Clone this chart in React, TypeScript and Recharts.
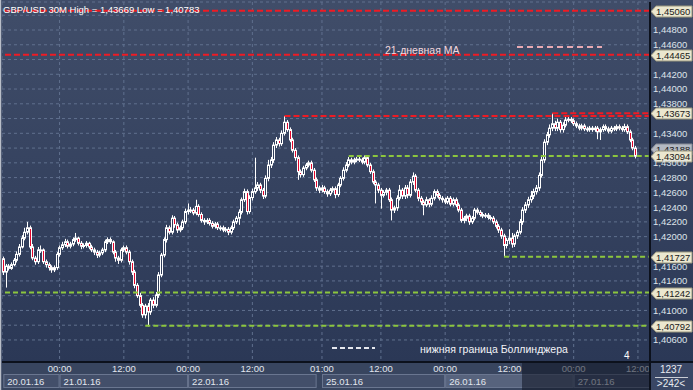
import React from 'react';
import { ComposedChart, Bar, XAxis, YAxis, CartesianGrid, ReferenceLine } from 'recharts';

const FONT = '"Liberation Sans", Arial, sans-serif';
const SLOT_COUNT = 242;

// GBP/USD 30-minute candles, 20.01.16 13:30 .. 27.01.16 11:30
const firstOpen = 1.4170;
const closes = [
  1.4152, 1.4160, 1.4157, 1.4162, 1.4168, 1.4176, 1.4186, 1.4198, 1.4206, 1.4212,
  1.4186, 1.4171, 1.4166, 1.4182, 1.4182, 1.4166, 1.4162, 1.4158, 1.4155, 1.4158,
  1.4176, 1.4185, 1.4189, 1.4193, 1.4187, 1.4190, 1.4196, 1.4198, 1.4191, 1.4187,
  1.4188, 1.4191, 1.4186, 1.4182, 1.4179, 1.4175, 1.4178, 1.4182, 1.4193, 1.4196,
  1.4193, 1.4179, 1.4171, 1.4168, 1.4182, 1.4185, 1.4179, 1.4166, 1.4152, 1.4134,
  1.4120, 1.4107, 1.4094, 1.4106, 1.4098, 1.4114, 1.4107, 1.4121, 1.4148, 1.4175,
  1.4196, 1.4212, 1.4206, 1.4225, 1.4216, 1.4209, 1.4212, 1.4220, 1.4234, 1.4236,
  1.4236, 1.4232, 1.4241, 1.4230, 1.4222, 1.4220, 1.4222, 1.4218, 1.4214, 1.4217,
  1.4212, 1.4212, 1.4209, 1.4210, 1.4206, 1.4212, 1.4220, 1.4225, 1.4233, 1.4250,
  1.4261, 1.4234, 1.4253, 1.4261, 1.4266, 1.4270, 1.4263, 1.4255, 1.4279, 1.4297,
  1.4304, 1.4324, 1.4331, 1.4326, 1.4340, 1.4355, 1.4345, 1.4331, 1.4317, 1.4307,
  1.4288, 1.4284, 1.4293, 1.4297, 1.4300, 1.4290, 1.4277, 1.4266, 1.4263, 1.4266,
  1.4261, 1.4258, 1.4263, 1.4265, 1.4257, 1.4270, 1.4279, 1.4290, 1.4297, 1.4304,
  1.4301, 1.4304, 1.4305, 1.4304, 1.4301, 1.4307, 1.4297, 1.4288, 1.4274, 1.4270,
  1.4263, 1.4256, 1.4260, 1.4263, 1.4250, 1.4236, 1.4239, 1.4252, 1.4263, 1.4255,
  1.4266, 1.4256, 1.4274, 1.4282, 1.4263, 1.4252, 1.4247, 1.4243, 1.4250, 1.4244,
  1.4252, 1.4261, 1.4256, 1.4252, 1.4250, 1.4247, 1.4252, 1.4244, 1.4250, 1.4243,
  1.4236, 1.4222, 1.4225, 1.4228, 1.4220, 1.4225, 1.4236, 1.4233, 1.4230, 1.4228,
  1.4229, 1.4226, 1.4225, 1.4220, 1.4214, 1.4209, 1.4201, 1.4188, 1.4195, 1.4198,
  1.4190, 1.4201, 1.4206, 1.4220, 1.4236, 1.4243, 1.4250, 1.4255, 1.4261, 1.4266,
  1.4283, 1.4304, 1.4328, 1.4338, 1.4347, 1.4353, 1.4347, 1.4355, 1.4345, 1.4351,
  1.4358, 1.4359, 1.4357, 1.4353, 1.4350, 1.4347, 1.4350, 1.4346, 1.4345, 1.4347,
  1.4345, 1.4347, 1.4342, 1.4345, 1.4349, 1.4346, 1.4343, 1.4347, 1.4346, 1.4349,
  1.4347, 1.4345, 1.4349, 1.4342, 1.4331, 1.4320, 1.4309,
];
const highs = [
  1.4173, 1.4163, 1.4163, 1.4165, 1.4171, 1.4180, 1.4190, 1.4202, 1.4212, 1.4220,
  1.4215, 1.4190, 1.4174, 1.4186, 1.4188, 1.4184, 1.4169, 1.4165, 1.4161, 1.4161,
  1.4179, 1.4188, 1.4193, 1.4197, 1.4196, 1.4193, 1.4199, 1.4205, 1.4200, 1.4194,
  1.4191, 1.4194, 1.4193, 1.4189, 1.4185, 1.4182, 1.4181, 1.4185, 1.4196, 1.4199,
  1.4199, 1.4195, 1.4182, 1.4174, 1.4185, 1.4188, 1.4188, 1.4182, 1.4169, 1.4155,
  1.4137, 1.4124, 1.4110, 1.4109, 1.4110, 1.4117, 1.4118, 1.4125, 1.4152, 1.4178,
  1.4199, 1.4216, 1.4215, 1.4229, 1.4228, 1.4219, 1.4215, 1.4223, 1.4238, 1.4245,
  1.4240, 1.4239, 1.4250, 1.4244, 1.4233, 1.4225, 1.4225, 1.4225, 1.4221, 1.4220,
  1.4220, 1.4215, 1.4215, 1.4213, 1.4213, 1.4215, 1.4223, 1.4228, 1.4237, 1.4253,
  1.4265, 1.4264, 1.4256, 1.4265, 1.4307, 1.4274, 1.4273, 1.4266, 1.4283, 1.4304,
  1.4308, 1.4328, 1.4335, 1.4334, 1.4344, 1.43635, 1.4358, 1.4348, 1.4334, 1.4320,
  1.4310, 1.4291, 1.4296, 1.4300, 1.4303, 1.4303, 1.4293, 1.4280, 1.4269, 1.4270,
  1.4269, 1.4264, 1.4266, 1.4268, 1.4268, 1.4273, 1.4282, 1.4294, 1.4301, 1.4308,
  1.4307, 1.4307, 1.4308, 1.4308, 1.4307, 1.4310, 1.4310, 1.4300, 1.4291, 1.4277,
  1.4273, 1.4266, 1.4263, 1.4266, 1.4266, 1.4253, 1.4242, 1.4256, 1.4270, 1.4266,
  1.4270, 1.4270, 1.4278, 1.4287, 1.4285, 1.4266, 1.4255, 1.4250, 1.4254, 1.4252,
  1.4256, 1.4264, 1.4264, 1.4259, 1.4255, 1.4253, 1.4255, 1.4255, 1.4253, 1.4253,
  1.4246, 1.4239, 1.4228, 1.4231, 1.4231, 1.4228, 1.4239, 1.4239, 1.4236, 1.4233,
  1.4232, 1.4232, 1.4229, 1.4228, 1.4223, 1.4217, 1.4212, 1.4204, 1.4198, 1.4210,
  1.4205, 1.4204, 1.4209, 1.4224, 1.4240, 1.4247, 1.4254, 1.4262, 1.4265, 1.4270,
  1.4287, 1.4308, 1.4332, 1.4342, 1.4352, 1.43673, 1.4357, 1.4360, 1.4358, 1.4355,
  1.4362, 1.4362, 1.4362, 1.4360, 1.4356, 1.4353, 1.4353, 1.4353, 1.4349, 1.4350,
  1.4350, 1.4350, 1.4350, 1.4348, 1.4352, 1.4352, 1.4349, 1.4350, 1.4350, 1.4352,
  1.4352, 1.4350, 1.4353, 1.4352, 1.4345, 1.4334, 1.4323,
];
const lows = [
  1.4148, 1.4131, 1.4154, 1.4155, 1.4160, 1.4165, 1.4173, 1.4184, 1.4195, 1.4203,
  1.4183, 1.4168, 1.4162, 1.4163, 1.4178, 1.4163, 1.4158, 1.4154, 1.4151, 1.4152,
  1.4155, 1.4173, 1.4182, 1.4186, 1.4184, 1.4184, 1.4187, 1.4193, 1.4188, 1.4183,
  1.4184, 1.4185, 1.4183, 1.4179, 1.4175, 1.4171, 1.4172, 1.4175, 1.4179, 1.4190,
  1.4190, 1.4176, 1.4166, 1.4163, 1.4165, 1.4179, 1.4176, 1.4162, 1.4148, 1.4130,
  1.4117, 1.4104, 1.4090, 1.4089, 1.40783, 1.4094, 1.4103, 1.4104, 1.4117, 1.4145,
  1.4172, 1.4192, 1.4203, 1.4203, 1.4212, 1.4205, 1.4206, 1.4209, 1.4217, 1.4230,
  1.4232, 1.4229, 1.4229, 1.4227, 1.4219, 1.4216, 1.4217, 1.4215, 1.4211, 1.4211,
  1.4209, 1.4208, 1.4206, 1.4206, 1.4202, 1.4203, 1.4209, 1.4217, 1.4216, 1.4230,
  1.4247, 1.4230, 1.4231, 1.4249, 1.4258, 1.4262, 1.4259, 1.4251, 1.4252, 1.4275,
  1.4293, 1.4300, 1.4320, 1.4322, 1.4323, 1.4337, 1.4342, 1.4328, 1.4314, 1.4303,
  1.4277, 1.4280, 1.4281, 1.4290, 1.4294, 1.4287, 1.4274, 1.4262, 1.4259, 1.4260,
  1.4258, 1.4254, 1.4255, 1.4260, 1.4252, 1.4254, 1.4267, 1.4276, 1.4287, 1.4294,
  1.4298, 1.4298, 1.4301, 1.4301, 1.4298, 1.4298, 1.4294, 1.4285, 1.4271, 1.4245,
  1.4259, 1.4238, 1.4253, 1.4256, 1.4247, 1.4222, 1.4232, 1.4235, 1.4249, 1.4251,
  1.4251, 1.4252, 1.4253, 1.4270, 1.4260, 1.4248, 1.4243, 1.4229, 1.4240, 1.4240,
  1.4241, 1.4249, 1.4253, 1.4249, 1.4246, 1.4244, 1.4244, 1.4241, 1.4241, 1.4240,
  1.4233, 1.4219, 1.4218, 1.4221, 1.4216, 1.4217, 1.4222, 1.4230, 1.4227, 1.4225,
  1.4225, 1.4223, 1.4222, 1.4217, 1.4211, 1.4205, 1.4197, 1.41727, 1.4184, 1.4190,
  1.4185, 1.4186, 1.4197, 1.4203, 1.4216, 1.4232, 1.4239, 1.4246, 1.4251, 1.4257,
  1.4262, 1.4280, 1.4300, 1.4324, 1.4334, 1.4343, 1.4343, 1.4343, 1.4341, 1.4341,
  1.4348, 1.4355, 1.4354, 1.4350, 1.4347, 1.4344, 1.4344, 1.4343, 1.4342, 1.4342,
  1.4342, 1.4342, 1.4332, 1.4331, 1.4342, 1.4343, 1.4340, 1.4340, 1.4343, 1.4343,
  1.4344, 1.4342, 1.4342, 1.4339, 1.4328, 1.4317, 1.4306,
];

// axis ticks
const timeTicks = [21, 45, 69, 93, 119, 141, 165, 189, 213, 237];
const timeLabels = ['00:00', '12:00', '00:00', '12:00', '01:00', '12:00', '00:00', '12:00', '00:00', '12:00'];
const dayStarts = [0, 21, 69, 119, 165, 213];
const dayEnds = [21, 69, 117, 165, 213, 242];
const dayLabels = ['20.01.16', '21.01.16', '22.01.16', '25.01.16', '26.01.16', '27.01.16'];
const priceTicks = [1.406, 1.408, 1.41, 1.412, 1.414, 1.416, 1.418, 1.42, 1.422, 1.424, 1.426,
  1.428, 1.43, 1.432, 1.434, 1.436, 1.438, 1.44, 1.442, 1.444, 1.446, 1.448, 1.45];
// tick labels hidden behind the price tags
const coveredTicks = [1.408, 1.412, 1.418, 1.432, 1.436, 1.444, 1.45];
const priceDomain = [1.403014, 1.451794];

// levels
const redLevels = [
  { v: 1.4506, from: -1 },
  { v: 1.44465, from: -1 },
  { v: 1.43635, from: 105 },
  { v: 1.43673, from: 205 },
];
const greenLevels = [
  { v: 1.43094, from: 129 },
  { v: 1.41727, from: 187 },
  { v: 1.41242, from: -1 },
  { v: 1.40792, from: 53 },
];
const tags = [
  { v: 1.4506, t: '1,45060', gray: false },
  { v: 1.44465, t: '1,44465', gray: false },
  { v: 1.43673, t: '1,43673', gray: false },
  { v: 1.43188, t: '1,43188', gray: true },
  { v: 1.43094, t: '1,43094', gray: false },
  { v: 1.41727, t: '1,41727', gray: false },
  { v: 1.41242, t: '1,41242', gray: false },
  { v: 1.40792, t: '1,40792', gray: false },
];

const rows = Array.from({ length: SLOT_COUNT }, (_, i) => {
  if (i < closes.length) {
    const o = i === 0 ? firstOpen : closes[i - 1];
    return { i, o, h: highs[i], l: lows[i], c: closes[i], range: [lows[i], highs[i]] };
  }
  return { i, range: null as any };
});

const fmt = (v: number) => v.toFixed(5).replace('.', ',');

const Candle = (props: any) => {
  const { x, y, width, height, payload } = props;
  if (!payload || payload.o == null) return null;
  const { o, c, h, l } = payload;
  const top = Math.min(y, y + height);
  const bot = Math.max(y, y + height);
  const span = h - l;
  if (!(span > 0)) return null;
  const k = (bot - top) / span;
  const yo = top + (h - o) * k;
  const yc = top + (h - c) * k;
  const cx = Math.floor(x + width / 2) + 0.5;
  const bTop = Math.min(yo, yc);
  const bBot = Math.max(yo, yc);
  const down = c < o;
  return (
    <g>
      <line x1={cx} x2={cx} y1={top} y2={bot} stroke="#ffffff" strokeWidth={1} />
      <rect x={cx - 1} y={bTop} width={2} height={Math.max(1, bBot - bTop)}
        fill={down ? '#e3062c' : '#303d5a'} stroke="#ffffff" strokeWidth={1} />
    </g>
  );
};

const PriceTick = (props: any) => {
  const { x, y, payload } = props;
  if (coveredTicks.some((t) => Math.abs(t - payload.value) < 1e-9)) return null;
  return (
    <text x={x} y={y} dy="0.36em" fill="#dfe3ea" fontSize={9.5} fontFamily={FONT}>{fmt(payload.value)}</text>
  );
};

const TimeTick = (props: any) => {
  const { x, y, payload } = props;
  const k = timeTicks.indexOf(payload.value);
  if (k < 0) return null;
  return (
    <text x={x} y={y + 8} textAnchor="middle" fill="#e2e6ee" fontSize={9.5} fontFamily={FONT}>
      {timeLabels[k]}
    </text>
  );
};

const DateTick = (props: any) => {
  const { x, y, payload } = props;
  const k = dayStarts.indexOf(payload.value);
  if (k < 0) return null;
  const bw = payload.offset ? payload.offset * 2 : 648 / SLOT_COUNT;
  const w = (dayEnds[k] - dayStarts[k]) * bw;
  const light = k === 4;
  return (
    <g>
      <rect x={x + 0.5} y={y - 2.5} width={w - 1} height={13} fill={light ? '#57637d' : '#434f6a'} stroke="#6a7690" strokeWidth={1} />
      <text x={x + 4} y={y + 7.5} fill="#e2e6ee" fontSize={9.5} fontFamily={FONT}>{dayLabels[k]}</text>
    </g>
  );
};

const Tag = (props: any) => {
  const { viewBox, text, gray } = props;
  if (!viewBox) return null;
  const x = viewBox.x + viewBox.width + 1;
  const y = Math.round(viewBox.y) + 0.5;
  return (
    <g>
      <path d={`M${x},${y} L${x + 5},${y - 5.5} L${x + 41},${y - 5.5} L${x + 41},${y + 5.5} L${x + 5},${y + 5.5} Z`}
        fill={gray ? '#b4b9c3' : '#ebe7cf'} stroke={gray ? '#868b96' : '#9a977f'} strokeWidth={1} />
      <text x={x + 5} y={y} dy="0.36em" fill="#1a1a1a" fontSize={9.5} fontFamily={FONT}>{text}</text>
    </g>
  );
};

export default function App() {
  return (
    <div style={{ position: 'fixed', left: 0, top: 0, width: 693, height: 390, overflow: 'hidden',
      background: 'linear-gradient(to bottom, #404d69 0px, #2b3856 362px, #2b3856 390px)' }}>
      <div style={{ position: 'absolute', left: 0, top: 362, width: 693, height: 28, background: '#38455f' }} />
      <div style={{ position: 'absolute', left: 0, top: 0 }}>
        <ComposedChart width={693} height={390} data={rows} barCategoryGap={0}
          margin={{ top: 2, right: 0, bottom: 0, left: 2 }}>
          <CartesianGrid xAxisId="a" stroke="#60708e" strokeDasharray="3 3" />
          <XAxis xAxisId="b" dataKey="i" type="category" ticks={dayStarts} interval={0} height={15}
            tickLine={false} tickSize={0} axisLine={false}
            tick={(p: any) => <DateTick {...p} />} />
          <XAxis xAxisId="a" dataKey="i" type="category" ticks={timeTicks} interval={0} height={13}
            tickLine={false} tickSize={0} axisLine={{ stroke: '#0c111c', strokeWidth: 2 }}
            tick={(p: any) => <TimeTick {...p} />} />
          <YAxis orientation="right" width={43} type="number" domain={priceDomain} allowDataOverflow
            ticks={priceTicks} interval={0} tickLine={false} tickSize={1} tickMargin={2}
            axisLine={{ stroke: '#0c111c', strokeWidth: 2 }}
            tick={(p: any) => <PriceTick {...p} />} />
          {redLevels.map((r, n) => r.from < 0 ? (
            <ReferenceLine key={'r' + n} xAxisId="a" y={r.v} stroke="#ee1b24" strokeWidth={2} strokeDasharray="6 3" />
          ) : (
            <ReferenceLine key={'r' + n} xAxisId="a" segment={[{ x: r.from, y: r.v }, { x: SLOT_COUNT - 1, y: r.v }]}
              stroke="#ee1b24" strokeWidth={2} strokeDasharray="6 3" />
          ))}
          {greenLevels.map((g, n) => g.from < 0 ? (
            <ReferenceLine key={'g' + n} xAxisId="a" y={g.v} stroke="#8cc63e" strokeWidth={2} strokeDasharray="5 3" />
          ) : (
            <ReferenceLine key={'g' + n} xAxisId="a" segment={[{ x: g.from, y: g.v }, { x: SLOT_COUNT - 1, y: g.v }]}
              stroke="#8cc63e" strokeWidth={2} strokeDasharray="5 3" />
          ))}
          <Bar xAxisId="a" dataKey="range" shape={(p: any) => <Candle {...p} />} isAnimationActive={false} />
          {tags.map((t, n) => (
            <ReferenceLine key={'t' + n} xAxisId="a" y={t.v} stroke="none" strokeOpacity={0}
              label={(p: any) => <Tag {...p} text={t.t} gray={t.gray} />} />
          ))}
        </ComposedChart>
      </div>
      <svg width={693} height={390} style={{ position: 'absolute', left: 0, top: 0, pointerEvents: 'none' }}>
        <rect x={522} y={363} width={128} height={27} fill="rgba(14,20,34,0.55)" />
        <rect x={0} y={0} width={1} height={390} fill="#b9bec8" />
        <rect x={1} y={0} width={1} height={390} fill="#566179" />
        <line x1={650} x2={650} y1={362} y2={390} stroke="#0c111c" strokeWidth={2} />
        <line x1={650} x2={693} y1={362} y2={362} stroke="#0c111c" strokeWidth={2} />
        <rect x={651} y={363} width={42} height={27} fill="#3a4765" />
        <text x={671} y={373} textAnchor="middle" fill="#e8ebf0" fontSize={10} fontFamily={FONT}>1237</text>
        <line x1={655} x2={688} y1={377.5} y2={377.5} stroke="#c8ccd4" strokeWidth={1} />
        <text x={671} y={387} textAnchor="middle" fill="#e8ebf0" fontSize={10} fontFamily={FONT}>&gt;242&lt;</text>
        <text x={3} y={12.5} fill="#ffffff" fontSize={9.5} fontFamily={FONT}>GBP/USD 30M High = 1,43669 Low = 1,40783</text>
        <text x={385} y={54} fill="#f3d7dd" fontSize={10.5} fontFamily={FONT}>21-дневная MA</text>
        <line x1={517} x2={602} y1={47} y2={47} stroke="#e9aab3" strokeWidth={2} strokeDasharray="6 4" />
        <line x1={332} x2={375} y1={348} y2={348} stroke="#e6e8ee" strokeWidth={2} strokeDasharray="5 3" />
        <text x={420} y={353} fill="#f2f3f6" fontSize={10.5} fontFamily={FONT}>нижняя граница Боллинджера</text>
        <text x={624} y={359} fill="#ffffff" fontSize={10} fontFamily={FONT}>4</text>
      </svg>
    </div>
  );
}
